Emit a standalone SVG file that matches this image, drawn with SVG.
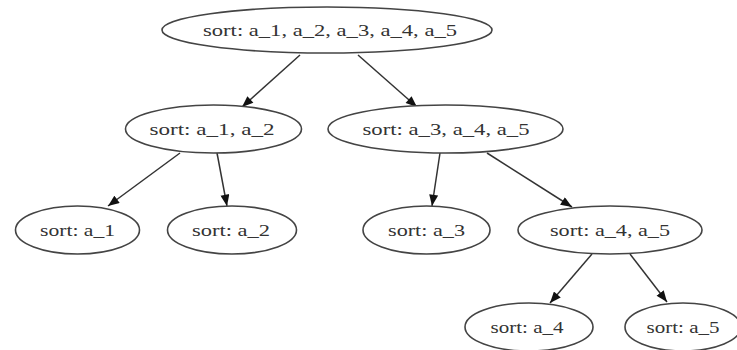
<svg xmlns="http://www.w3.org/2000/svg" width="737" height="350" viewBox="0 0 737 350">
<defs>
<style>
.n ellipse{fill:#fff;stroke:#444;stroke-width:1.6}
.n text{font-family:'Liberation Serif','DejaVu Serif',serif;font-size:16px;fill:#333;text-anchor:middle}
.e line{stroke:#333;stroke-width:1.5}
</style>
<marker id="ah" viewBox="0 0 10 8" refX="10" refY="4" markerWidth="12" markerHeight="9" markerUnits="userSpaceOnUse" orient="auto">
<path d="M0,0 L10,4 L0,8 z" fill="#111"/>
</marker>
</defs>
<rect width="737" height="350" fill="#fff"/>
<g id="connectors" class="e">
<line x1="300" y1="55" x2="242" y2="107" marker-end="url(#ah)"/>
<line x1="358" y1="55" x2="417" y2="107" marker-end="url(#ah)"/>
<line x1="180" y1="153" x2="108" y2="206" marker-end="url(#ah)"/>
<line x1="217" y1="153" x2="227" y2="206" marker-end="url(#ah)"/>
<line x1="440" y1="153" x2="432" y2="206" marker-end="url(#ah)"/>
<line x1="487" y1="153" x2="572" y2="207" marker-end="url(#ah)"/>
<line x1="592" y1="254" x2="550" y2="303" marker-end="url(#ah)"/>
<line x1="630" y1="254" x2="667" y2="302" marker-end="url(#ah)"/>
</g>
<g font-family="Liberation Serif, DejaVu Serif, serif">
<g id="n_root" class="n"><ellipse cx="327" cy="30" rx="165" ry="23"/><text x="330" y="36" textLength="254" lengthAdjust="spacingAndGlyphs">sort: a_1, a_2, a_3, a_4, a_5</text></g>
<g id="n_12" class="n"><ellipse cx="213.5" cy="129" rx="88" ry="24"/><text x="212" y="135" textLength="125" lengthAdjust="spacingAndGlyphs">sort: a_1, a_2</text></g>
<g id="n_345" class="n"><ellipse cx="445.5" cy="129" rx="117.5" ry="24"/><text x="446" y="135" textLength="167" lengthAdjust="spacingAndGlyphs">sort: a_3, a_4, a_5</text></g>
<g id="n_1" class="n"><ellipse cx="77.5" cy="230" rx="62" ry="24"/><text x="77.5" y="236" textLength="75" lengthAdjust="spacingAndGlyphs">sort: a_1</text></g>
<g id="n_2" class="n"><ellipse cx="232" cy="230" rx="64.5" ry="24"/><text x="231" y="236" textLength="78" lengthAdjust="spacingAndGlyphs">sort: a_2</text></g>
<g id="n_3" class="n"><ellipse cx="426.5" cy="230" rx="63.5" ry="24"/><text x="426.5" y="236" textLength="77" lengthAdjust="spacingAndGlyphs">sort: a_3</text></g>
<g id="n_45" class="n"><ellipse cx="610" cy="230" rx="92" ry="24"/><text x="610" y="236" textLength="120" lengthAdjust="spacingAndGlyphs">sort: a_4, a_5</text></g>
<g id="n_4" class="n"><ellipse cx="529" cy="327" rx="64" ry="24"/><text x="527" y="333" textLength="73" lengthAdjust="spacingAndGlyphs">sort: a_4</text></g>
<g id="n_5" class="n"><ellipse cx="683" cy="327" rx="58" ry="24"/><text x="683" y="333" textLength="73" lengthAdjust="spacingAndGlyphs">sort: a_5</text></g>
</g>
</svg>
